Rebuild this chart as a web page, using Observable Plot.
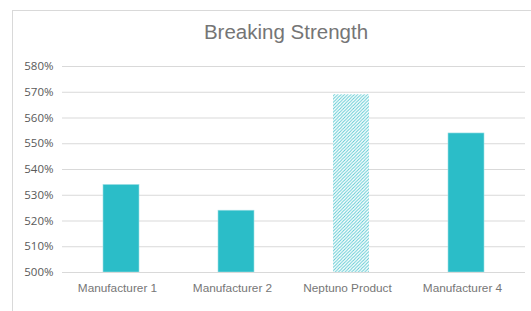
<!DOCTYPE html>
<html>
<head>
<meta charset="utf-8">
<script src="https://cdn.jsdelivr.net/npm/d3@7"></script>
<script src="https://cdn.jsdelivr.net/npm/@observablehq/plot@0.6"></script>
<style>
  html, body { margin: 0; padding: 0; background: #fff; }
  #wrap { position: relative; width: 531px; height: 311px; overflow: hidden; }
  #frame { position: absolute; left: 12px; top: 10px; width: 600px; height: 400px; border: 1px solid #d9d9d9; box-sizing: border-box; }
  #title { position: absolute; top: 20px; left: 0; width: 572px; text-align: center;
           font-family: "Liberation Sans", Arial, sans-serif; font-size: 20.5px; color: #757575; }
  #chart { position: absolute; left: 0; top: 0; }
  #chart g[aria-label="y-axis tick label"] { fill: #595959; font-size: 11.5px; font-family: "Open Sans", "Liberation Sans", sans-serif; }
  #chart g[aria-label="x-axis tick label"] { fill: #767676; font-size: 11.8px; font-family: "Liberation Sans", Arial, sans-serif; }
</style>
</head>
<body>
<div id="wrap">
  <div id="frame"></div>
  <div id="title">Breaking Strength</div>
  <div id="chart"></div>
</div>
<script>
const categories = ["Manufacturer 1", "Manufacturer 2", "Neptuno Product", "Manufacturer 4"];
const values = [534, 524, 569, 554];
const hatched = [false, false, true, false];
const yTicks = [500, 510, 520, 530, 540, 550, 560, 570, 580];

const data = categories.map((c, i) => ({cat: c, value: values[i], hatch: hatched[i]}));

const plot = Plot.plot({
  width: 531,
  height: 311,
  marginTop: 66,
  marginBottom: 39,
  marginLeft: 62,
  marginRight: 6,
  style: {background: "transparent", fontFamily: "Liberation Sans, Arial, sans-serif"},
  x: {domain: categories, paddingInner: 0.683, paddingOuter: 0.3415, label: null},
  y: {domain: [500, 580], label: null},
  marks: [
    Plot.gridY(yTicks, {stroke: "#d9d9d9", strokeOpacity: 1}),
    Plot.barY(data.filter(d => !d.hatch), {x: "cat", y1: 500, y2: "value", fill: "#2bbdc8", stroke: "#9fdfe5", strokeWidth: 0.6}),
    Plot.barY(data.filter(d => d.hatch), {x: "cat", y1: 500, y2: "value", fill: "url(#hatch)"}),
    Plot.ruleY([500], {stroke: "#d9d9d9"}),
    Plot.axisX({tickSize: 0, tickPadding: 11, dx: -4, label: null}),
    Plot.axisY(yTicks, {tickSize: 0, tickPadding: 9, tickFormat: d => d + "%", label: null})
  ]
});

const svg = d3.select(plot);
const defs = svg.insert("defs", ":first-child");
const w = 3.3;
const pat = defs.append("pattern")
  .attr("id", "hatch")
  .attr("patternUnits", "userSpaceOnUse")
  .attr("width", w)
  .attr("height", w);
pat.append("rect").attr("width", w).attr("height", w).attr("fill", "#ffffff");
pat.append("path")
  .attr("d", `M-1,1 l2,-2 M0,${w} l${w},${-w} M${w - 1},${w + 1} l2,-2`)
  .attr("stroke", "#5ccad3")
  .attr("stroke-width", 1);

document.getElementById("chart").appendChild(plot);
</script>
</body>
</html>
